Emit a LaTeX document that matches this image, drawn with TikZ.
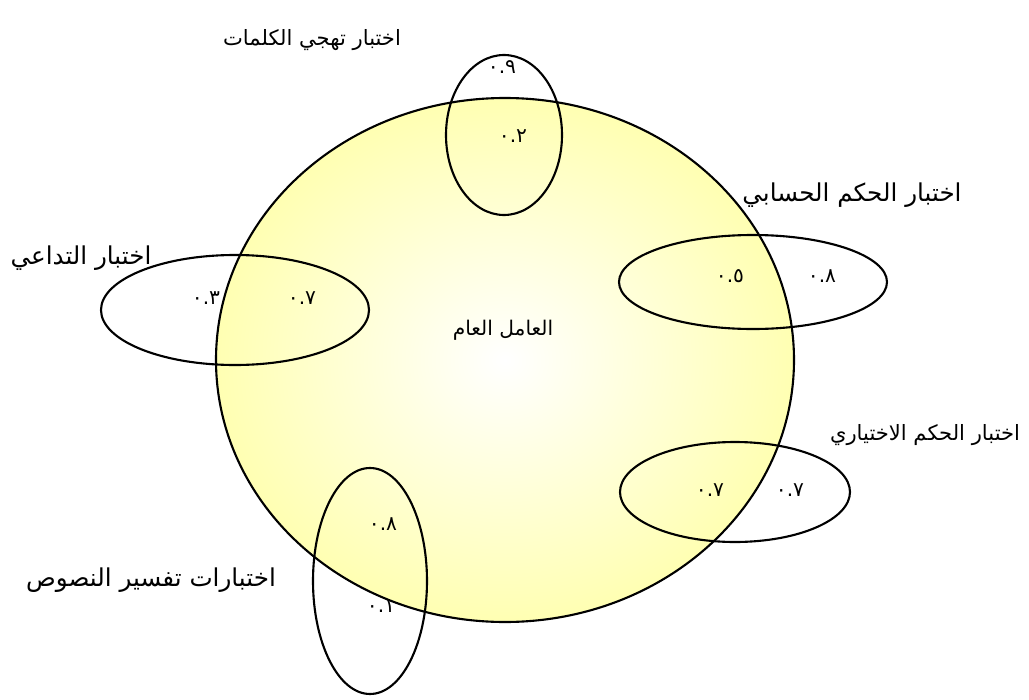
\documentclass[tikz,border=0pt]{standalone}
\usepackage{fontspec}
\newfontfamily\arabicfont[Script=Arabic]{DejaVu Sans}
\TeXXeTstate=1
\usepackage{xcolor}
\usepackage{tikz}
\usetikzlibrary{positioning}
\definecolor{sunedge}{RGB}{255,255,120}
\pgfdeclareradialshading{sunglow}{\pgfpoint{0bp}{0bp}}{color(0bp)=(white); color(44bp)=(sunedge); color(50bp)=(sunedge)}

\begin{document}
\begin{tikzpicture}[x=0.02cm,y=-0.02cm,
  loop/.style={draw=black,line width=1.2pt},
  val/.style={font=\arabicfont\fontsize{11.5}{13}\selectfont},
  lbl/.style={font=\arabicfont\fontsize{12}{14}\selectfont},
  biglbl/.style={font=\arabicfont\fontsize{14}{16}\selectfont}]
  \useasboundingbox (0,0) rectangle (1029,700);
  % general factor
  \shade[shading=sunglow,loop] (505,360) ellipse [x radius=289,y radius=262];
  \node[val] (general) at (503,330) {\beginR العامل العام\endR};
  % tests
  \draw[loop] (504,135) ellipse [x radius=58,y radius=80];
  \draw[loop] (753,282) ellipse [x radius=134,y radius=47];
  \draw[loop] (235,310) ellipse [x radius=134,y radius=55];
  \draw[loop] (735,492) ellipse [x radius=115,y radius=50];
  \draw[loop] (370,581) ellipse [x radius=57,y radius=113];
  % test names
  \node[lbl] (spell) at (312,40) {\beginR اختبار تهجي الكلمات\endR};
  \node[biglbl] (arith) at (852,195) {\beginR اختبار الحكم الحسابي\endR};
  \node[biglbl] (assoc) at (81,258) {\beginR اختبار التداعي\endR};
  \node[lbl] (choice) at (925,435) {\beginR اختبار الحكم الاختياري\endR};
  \node[biglbl] (texts) at (151,580) {\beginR اختبارات تفسير النصوص\endR};
  % loadings: specific / general
  \node[val] (spellS) at (502,67) {٠.٩};
  \node[val] (spellG) at (513,136) {٠.٢};
  \node[val] (arithG) at (730,276) {٠.٥};
  \node[val] (arithS) at (822,276) {٠.٨};
  \node[val] (assocS) at (206,298) {٠.٣};
  \node[val] (assocG) at (302,298) {٠.٧};
  \node[val] (choiceG) at (710,490) {٠.٧};
  \node[val] (choiceS) at (790,490) {٠.٧};
  \node[val] (textsG) at (383,524) {٠.٨};
  \node[val] (textsS) at (381,606) {٠.١};
\end{tikzpicture}
\end{document}
